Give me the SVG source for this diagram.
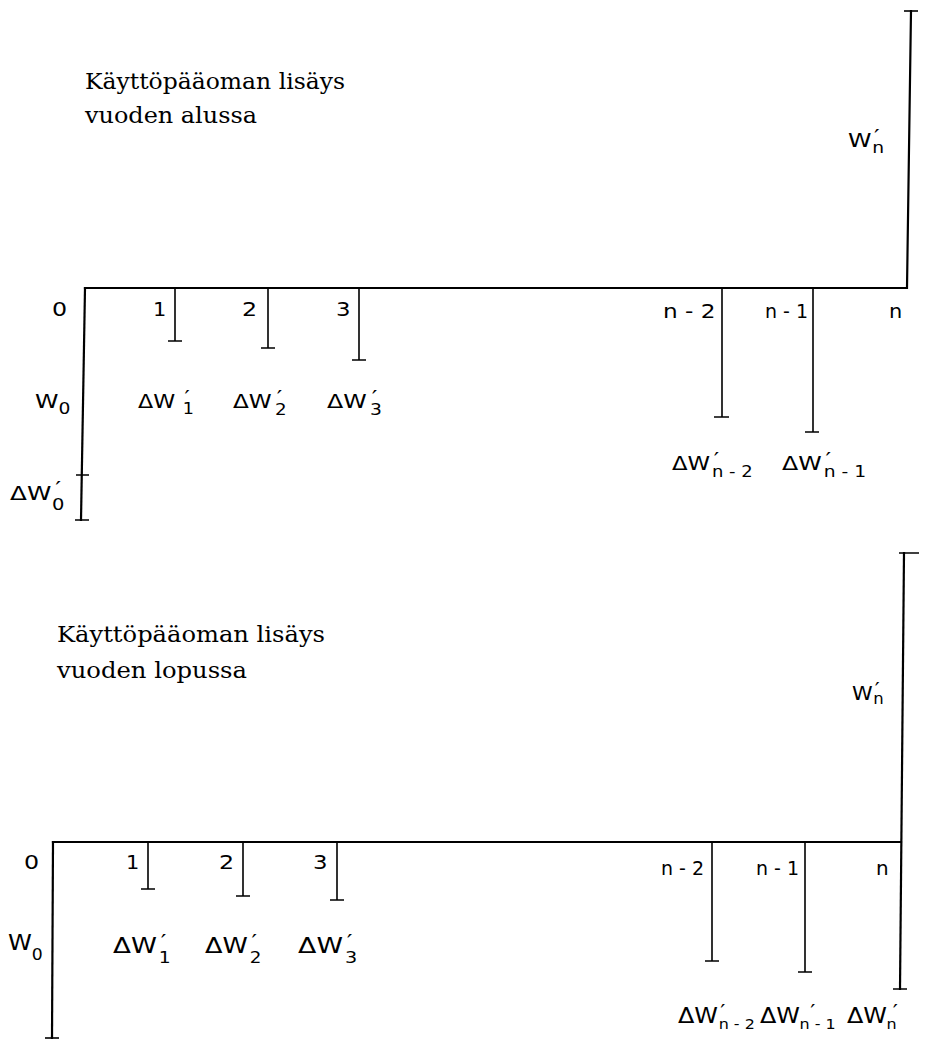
<svg xmlns="http://www.w3.org/2000/svg" width="928" height="1049" viewBox="0 0 928 1049">
<style>
.ax{stroke:#000;stroke-width:2.2;fill:none;stroke-linecap:square}
.tk{stroke:#000;stroke-width:1.6;fill:none}
.ttl{font-family:"DejaVu Serif","Liberation Serif",serif;font-size:22px;fill:#000}
.lb{font-family:"DejaVu Sans","Liberation Sans",sans-serif;font-size:19px;fill:#000}
.lb2{font-family:"DejaVu Sans","Liberation Sans",sans-serif;font-size:21px;fill:#000}
.sb{font-size:15px}
.sb2{font-size:14px}
.pr{font-size:20px}
</style>
<rect width="928" height="1049" fill="#fff"/>

<!-- TOP DIAGRAM -->
<g id="title-top"><text class="ttl" x="85" y="89" textLength="260" lengthAdjust="spacingAndGlyphs">Käyttöpääoman lisäys</text><text class="ttl" x="85" y="123" textLength="172" lengthAdjust="spacingAndGlyphs">vuoden alussa</text></g>
<g id="connectors-top">
<path class="ax" d="M85,288 H907 L911,11"/>
<path class="tk" d="M904,11 H918"/>
<path class="ax" d="M85,288 L81,520"/>
<path class="tk" d="M76,475 H89 M75,520 H89"/>
<path class="tk" d="M175,288 V341 M168,341 H182"/>
<path class="tk" d="M268,288 V348 M261,348 H275"/>
<path class="tk" d="M359,288 V360 M352,360 H366"/>
<path class="tk" d="M722,288 V417 M714,417 H729"/>
<path class="tk" d="M813,288 V432 M805,432 H819"/>
</g>
<g id="labels-top-axis">
<text class="lb" transform="translate(52,316) scale(1.25,1)">0</text>
<text class="lb" transform="translate(153,316) scale(1.1,1)">1</text>
<text class="lb" transform="translate(242,316) scale(1.25,1)">2</text>
<text class="lb" transform="translate(336,316) scale(1.2,1)">3</text>
<text class="lb" transform="translate(663,318) scale(1.22,1)">n - 2</text>
<text class="lb" transform="translate(765,318) scale(1.0,1)">n - 1</text>
<text class="lb" transform="translate(889,318) scale(1.1,1)">n</text>
</g>
<g id="W0-top"><text class="lb" transform="translate(35,408) scale(1.25,1)">W<tspan class="sb" dy="6">0</tspan></text></g>
<g id="dW0-top"><text class="lb" transform="translate(10,500) scale(1.3,1)">ΔW<tspan class="pr" dx="3" dy="-5">′</tspan><tspan class="sb" dx="-7" dy="15">0</tspan></text></g>
<g id="dW1-top"><text class="lb" transform="translate(138,408) scale(1.17,1)">ΔW<tspan class="pr" dx="8" dy="-4">′</tspan><tspan class="sb" dx="-6" dy="10">1</tspan></text></g>
<g id="dW2-top"><text class="lb" transform="translate(233,408) scale(1.22,1)">ΔW<tspan class="pr" dx="4" dy="-4">′</tspan><tspan class="sb" dx="-6" dy="11">2</tspan></text></g>
<g id="dW3-top"><text class="lb" transform="translate(327,408) scale(1.25,1)">ΔW<tspan class="pr" dx="4" dy="-4">′</tspan><tspan class="sb" dx="-6" dy="11">3</tspan></text></g>
<g id="dWn2-top"><text class="lb" transform="translate(672,470) scale(1.2,1)">ΔW<tspan class="pr" dx="3" dy="-4">′</tspan><tspan class="sb" dx="-6" dy="11">n - 2</tspan></text></g>
<g id="dWn1-top"><text class="lb" transform="translate(782,470) scale(1.25,1)">ΔW<tspan class="pr" dx="3" dy="-4">′</tspan><tspan class="sb" dx="-6" dy="11">n - 1</tspan></text></g>
<g id="Wn-top"><text class="lb" transform="translate(848,147) scale(1.25,1)">W<tspan class="pr" dx="2" dy="-4">′</tspan><tspan class="sb" dx="-6" dy="10">n</tspan></text></g>

<!-- BOTTOM DIAGRAM -->
<g id="title-bottom"><text class="ttl" x="57" y="642" textLength="268" lengthAdjust="spacingAndGlyphs">Käyttöpääoman lisäys</text><text class="ttl" x="57" y="678" textLength="190" lengthAdjust="spacingAndGlyphs">vuoden lopussa</text></g>
<g id="connectors-bottom">
<path class="ax" d="M53,842 H901"/>
<path class="ax" d="M53,842 L52,1038"/>
<path class="tk" d="M45,1038 H59"/>
<path class="ax" d="M904,553 L900,989"/>
<path class="tk" d="M899,553 H919 M893,989 H907"/>
<path class="tk" d="M148,842 V889 M141,889 H155"/>
<path class="tk" d="M243,842 V896 M236,896 H250"/>
<path class="tk" d="M337,842 V900 M330,900 H344"/>
<path class="tk" d="M712,842 V961 M705,961 H719"/>
<path class="tk" d="M805,842 V972 M798,972 H812"/>
</g>
<g id="labels-bottom-axis">
<text class="lb" transform="translate(24,869) scale(1.25,1)">0</text>
<text class="lb" transform="translate(126,869) scale(1.1,1)">1</text>
<text class="lb" transform="translate(219,869) scale(1.25,1)">2</text>
<text class="lb" transform="translate(313,869) scale(1.2,1)">3</text>
<text class="lb" transform="translate(661,875) scale(1.0,1)">n - 2</text>
<text class="lb" transform="translate(756,875) scale(1.0,1)">n - 1</text>
<text class="lb" transform="translate(876,875) scale(1.05,1)">n</text>
</g>
<g id="W0-bottom"><text class="lb2" transform="translate(8,950) scale(1.15,1)">W<tspan class="sb" dy="10">0</tspan></text></g>
<g id="dW1-bottom"><text class="lb2" transform="translate(113,953) scale(1.25,1)">ΔW<tspan class="pr" dx="3" dy="-5">′</tspan><tspan class="sb" dx="-6" dy="15">1</tspan></text></g>
<g id="dW2-bottom"><text class="lb2" transform="translate(205,953) scale(1.22,1)">ΔW<tspan class="pr" dx="3" dy="-5">′</tspan><tspan class="sb" dx="-6" dy="15">2</tspan></text></g>
<g id="dW3-bottom"><text class="lb2" transform="translate(298,953) scale(1.28,1)">ΔW<tspan class="pr" dx="3" dy="-5">′</tspan><tspan class="sb" dx="-6" dy="15">3</tspan></text></g>
<g id="dWn2-bottom"><text class="lb2" transform="translate(678,1023) scale(1.14,1)">ΔW<tspan class="pr" dx="2" dy="-5">′</tspan><tspan class="sb2" dx="-6" dy="11">n - 2</tspan></text></g>
<g id="dWn1-bottom"><text class="lb2" transform="translate(760,1023) scale(1.14,1)">ΔW<tspan class="pr" dx="9" dy="-5">′</tspan><tspan class="sb2" dx="-14" dy="11">n - 1</tspan></text></g>
<g id="dWn-bottom"><text class="lb2" transform="translate(847,1023) scale(1.14,1)">ΔW<tspan class="pr" dx="5" dy="-5">′</tspan><tspan class="sb2" dx="-10" dy="11">n</tspan></text></g>
<g id="Wn-bottom"><text class="lb" transform="translate(852,700) scale(1.1,1)">W<tspan class="pr" dx="2" dy="-4">′</tspan><tspan class="sb" dx="-6" dy="8">n</tspan></text></g>
</svg>
